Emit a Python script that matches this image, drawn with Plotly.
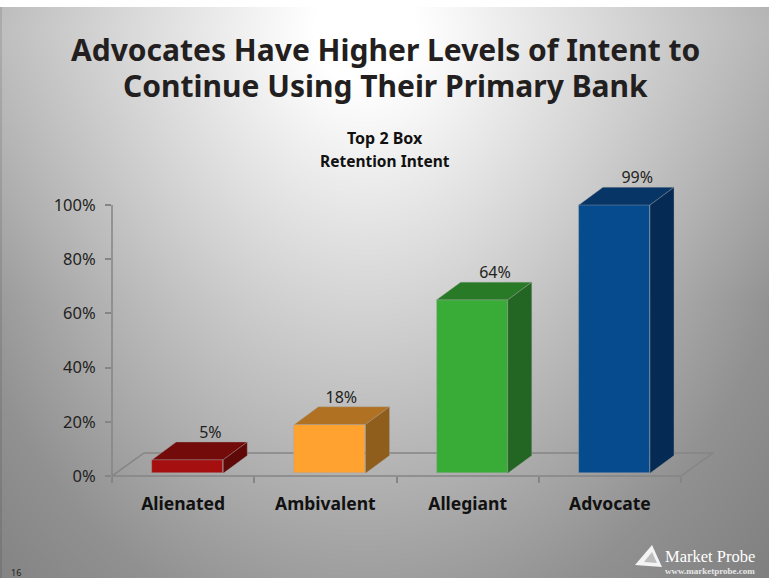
import base64, struct, zlib
import numpy as np
import plotly.graph_objects as go

W, H = 769, 578
LEFT, RIGHT, TOP, BOTTOM = 112, 720, 160, 476
X_UNIT, Y_UNIT = 142.25, 2.71

categories = ["Alienated", "Ambivalent", "Allegiant", "Advocate"]
retention = [5, 18, 64, 99]
front_colors = ["#A50F0F", "#FFA230", "#39AC37", "#074B8F"]
top_colors = ["#730B0B", "#B07222", "#297A27", "#073565"]
side_colors = ["#5F0909", "#8F5E1C", "#236522", "#052B55"]
y_ticks = [0, 20, 40, 60, 80, 100]
y_tick_labels = ["0%", "20%", "40%", "60%", "80%", "100%"]
boundaries = [-0.5, 0.5, 1.5, 2.5, 3.5]
label_nudge = [0.16, 0.08, 0.16, 0.16]

# pseudo-3D projection, in axis units
BAR_DEPTH_X, BAR_DEPTH_Y = 0.169, 6.53
FLOOR_DEPTH_X, FLOOR_DEPTH_Y = 0.225, 8.5
BAR_LIFT = 1.0
BAR_SHIFT = 0.032
BAR_WIDTH = 0.5
EDGE = "rgba(165,165,165,0.5)"
AXIS = "#858585"
INK = "#231F20"


def px(x):
    return (x - LEFT) / (RIGHT - LEFT)


def py(y):
    return (BOTTOM - y) / (BOTTOM - TOP)


def backdrop():
    # slide background: radial white-to-grey gradient with a white strip on top
    yy, xx = np.mgrid[0:H, 0:W]
    dx, dy = xx - 365.0, yy - 30.0
    stretch = 1.05 + 0.3 * np.clip(np.abs(dy) / 270, 0, 1)
    d = np.sqrt((dx * stretch) ** 2 + dy ** 2)
    grey = 255 - 0.196 * np.clip(d - 56, 0, 560) - 0.11 * np.clip(d - 616, 0, None)
    grey = np.clip(grey, 0, 255)
    grey[:7, :] = 255
    grey[7:, :2] = grey[7:, :2] * 0.9
    rows = grey.astype(np.uint8)
    raw = b"".join(b"\x00" + r.tobytes() for r in rows)

    def chunk(tag, data):
        body = tag + data
        return struct.pack(">I", len(data)) + body + struct.pack(">I", zlib.crc32(body))

    png = (b"\x89PNG\r\n\x1a\n" + chunk(b"IHDR", struct.pack(">IIBBBBB", W, H, 8, 0, 0, 0, 0))
           + chunk(b"IDAT", zlib.compress(raw, 9)) + chunk(b"IEND", b""))
    return "data:image/png;base64," + base64.b64encode(png).decode()


fig = go.Figure()

# top and side faces of each bar
for i, v in enumerate(retention):
    left = i + BAR_SHIFT - BAR_WIDTH / 2
    right = left + BAR_WIDTH
    low, high = BAR_LIFT, BAR_LIFT + v
    fig.add_trace(go.Scatter(
        x=[left, right, right + BAR_DEPTH_X, left + BAR_DEPTH_X, left],
        y=[high, high, high + BAR_DEPTH_Y, high + BAR_DEPTH_Y, high],
        mode="lines", fill="toself", fillcolor=top_colors[i],
        line=dict(color=EDGE, width=0.7), hoverinfo="skip", showlegend=False))
    fig.add_trace(go.Scatter(
        x=[right, right + BAR_DEPTH_X, right + BAR_DEPTH_X, right, right],
        y=[low, low + BAR_DEPTH_Y, high + BAR_DEPTH_Y, high, low],
        mode="lines", fill="toself", fillcolor=side_colors[i],
        line=dict(color=EDGE, width=0.7), hoverinfo="skip", showlegend=False))

# front faces
fig.add_trace(go.Bar(
    x=list(range(len(categories))), y=retention, base=BAR_LIFT,
    width=BAR_WIDTH, offset=BAR_SHIFT - BAR_WIDTH / 2,
    marker=dict(color=front_colors, line=dict(color=EDGE, width=0.7)),
    hoverinfo="skip", showlegend=False))

# value labels sit above the top face
fig.add_trace(go.Scatter(
    x=[i + BAR_SHIFT + label_nudge[i] for i in range(len(retention))],
    y=[v + BAR_LIFT + BAR_DEPTH_Y for v in retention],
    mode="text", text=[f"{v}%" for v in retention], textposition="top center",
    textfont=dict(family="Noto Sans", size=16, color=INK),
    hoverinfo="skip", showlegend=False))

annotations = []


def label(text, x, y, size, color=INK, family="Noto Sans", bold=False):
    annotations.append(dict(
        text=f"<b>{text}</b>" if bold else text,
        x=px(x), y=py(y), xref="paper", yref="paper",
        xanchor="center", yanchor="middle", showarrow=False,
        font=dict(family=family, size=size, color=color)))


label("Advocates Have Higher Levels of Intent to", 385, 50, 30, bold=True)
label("Continue Using Their Primary Bank", 385, 85, 30, bold=True)
label("Top 2 Box", 385, 138, 16, color="#111111", bold=True)
label("Retention Intent", 385, 161, 15.5, color="#111111", bold=True)
label("16", 16, 572, 9, color="#222222")
label("Market Probe", 710, 556, 16.5, color="#FFFFFF", family="Liberation Serif")
label("www.marketprobe.com", 710, 571, 9, color="#E8E8E8", family="Liberation Serif", bold=True)


def path(points):
    return "M " + " L ".join(f"{px(a):.4f},{py(b):.4f}" for a, b in points) + " Z"


x0, x1 = boundaries[0], boundaries[-1]
floor_path = (f"M {x0},0 L {x0 + FLOOR_DEPTH_X},{FLOOR_DEPTH_Y} "
              f"L {x1 + FLOOR_DEPTH_X},{FLOOR_DEPTH_Y} L {x1},0")
axis_line = dict(color=AXIS, width=1.5)
shapes = [
    # floor and axis lines, under the bars
    dict(type="path", xref="x", yref="y", path=floor_path, line=axis_line, layer="below"),
    dict(type="line", xref="paper", yref="y", x0=0, x1=0, y0=0, y1=y_ticks[-1],
         line=axis_line, layer="below"),
    dict(type="line", xref="x", yref="paper", x0=x0, x1=x1, y0=0, y1=0,
         line=axis_line, layer="below"),
    # company mark
    dict(type="path", xref="paper", yref="paper", line_width=0, fillcolor="#F4F4F4",
         path=path([(635, 565), (652, 545), (662, 567)])),
    dict(type="path", xref="paper", yref="paper", line_width=0, fillcolor="#BDBDBD",
         path=path([(644, 562), (652, 552), (657, 563)])),
]

fig.update_layout(
    width=W, height=H,
    margin=dict(l=LEFT, r=W - RIGHT, t=TOP, b=H - BOTTOM, pad=0),
    paper_bgcolor="#FFFFFF", plot_bgcolor="rgba(0,0,0,0)",
    showlegend=False, bargap=0,
    annotations=annotations, shapes=shapes,
    images=[dict(source=backdrop(), xref="paper", yref="paper",
                 x=px(0), y=py(0), sizex=W / (RIGHT - LEFT), sizey=H / (BOTTOM - TOP),
                 xanchor="left", yanchor="top", sizing="stretch", layer="below")],
    xaxis=dict(
        range=[x0, x0 + (RIGHT - LEFT) / X_UNIT], showgrid=False, zeroline=False,
        showline=False,
        tickmode="array", tickvals=list(range(len(categories))), ticktext=categories,
        ticks="", ticklabelstandoff=15,
        tickfont=dict(family="Noto Sans", size=17.5, color="#111111", weight="bold"),
        minor=dict(tickmode="array", tickvals=boundaries, ticks="outside",
                   ticklen=6, tickwidth=1.5, tickcolor=AXIS, showgrid=False)),
    yaxis=dict(
        range=[0, (BOTTOM - TOP) / Y_UNIT], showgrid=False, zeroline=False,
        showline=False,
        tickmode="array", tickvals=y_ticks, ticktext=y_tick_labels,
        ticks="outside", ticklen=6, tickwidth=1.5, tickcolor=AXIS,
        ticklabelstandoff=6,
        tickfont=dict(family="Noto Sans", size=16.5, color=INK)),
)

fig.write_html("out.html", config=dict(displayModeBar=False))
